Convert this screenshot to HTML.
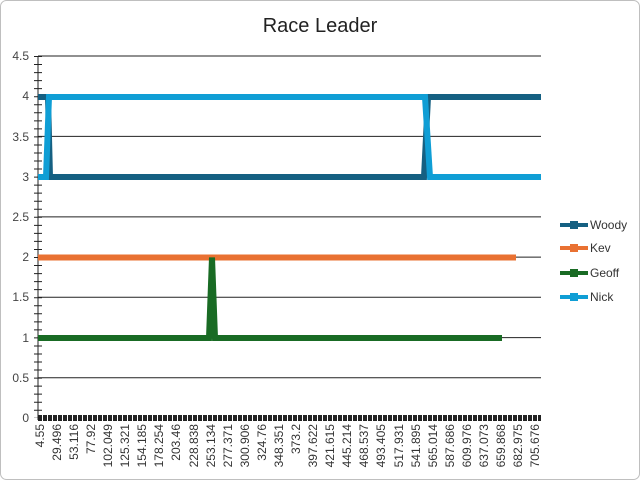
<!DOCTYPE html>
<html><head><meta charset="utf-8"><style>
body{margin:0;background:#fff}
svg{display:block;font-family:"Liberation Sans",sans-serif}
</style></head><body>
<svg width="641" height="481" xmlns="http://www.w3.org/2000/svg">
<rect x="0.5" y="0.5" width="639" height="479" rx="6" fill="#fff" stroke="#bfbfbf"/>
<text x="320" y="32" font-size="20" text-anchor="middle" fill="#222">Race Leader</text>
<g stroke="#222" stroke-width="1">
<line x1="38" x2="541" y1="56" y2="56"/>
<line x1="38" x2="541" y1="96.2" y2="96.2"/>
<line x1="38" x2="541" y1="136.4" y2="136.4"/>
<line x1="38" x2="541" y1="176.7" y2="176.7"/>
<line x1="38" x2="541" y1="216.9" y2="216.9"/>
<line x1="38" x2="541" y1="257.1" y2="257.1"/>
<line x1="38" x2="541" y1="297.3" y2="297.3"/>
<line x1="38" x2="541" y1="337.6" y2="337.6"/>
<line x1="38" x2="541" y1="377.8" y2="377.8"/>
<line x1="38" x2="38" y1="56" y2="420"/>
</g>
<line x1="38" x2="38" y1="56" y2="418" stroke="#222" stroke-width="8" stroke-dasharray="1 7.04"/>
<g font-size="12" fill="#444" text-anchor="end">
<text x="29" y="60">4.5</text><text x="29" y="100">4</text><text x="29" y="141">3.5</text>
<text x="29" y="181">3</text><text x="29" y="221">2.5</text><text x="29" y="261">2</text>
<text x="29" y="301">1.5</text><text x="29" y="342">1</text><text x="29" y="382">0.5</text>
<text x="29" y="422">0</text>
</g>
<g fill="none" stroke-width="6" stroke-linejoin="miter">
<polyline stroke="#156082" points="38,97 48,97 50,177 424,177 428,97 541,97"/>
<polyline stroke="#e97132" points="38,257.5 516,257.5"/>
<polyline stroke="#196b24" points="38,338 209,338 212,257.5 215,338 502,338"/>
<polyline stroke="#0f9ed5" points="38,177 46,177 49,97 425,97 430,177 541,177"/>
</g>
<line x1="38" x2="541" y1="418" y2="418" stroke="#222" stroke-width="6" stroke-dasharray="4 1"/>
<g font-size="12" fill="#333" text-anchor="end">
<text transform="translate(44,424) rotate(-90)">4.55</text>
<text transform="translate(61,424) rotate(-90)">29.496</text>
<text transform="translate(78,424) rotate(-90)">53.116</text>
<text transform="translate(95,424) rotate(-90)">77.92</text>
<text transform="translate(112,424) rotate(-90)">102.049</text>
<text transform="translate(129,424) rotate(-90)">125.321</text>
<text transform="translate(146,424) rotate(-90)">154.185</text>
<text transform="translate(163,424) rotate(-90)">178.254</text>
<text transform="translate(180,424) rotate(-90)">203.46</text>
<text transform="translate(198,424) rotate(-90)">228.838</text>
<text transform="translate(215,424) rotate(-90)">253.134</text>
<text transform="translate(232,424) rotate(-90)">277.371</text>
<text transform="translate(249,424) rotate(-90)">300.906</text>
<text transform="translate(266,424) rotate(-90)">324.76</text>
<text transform="translate(283,424) rotate(-90)">348.351</text>
<text transform="translate(300,424) rotate(-90)">373.2</text>
<text transform="translate(317,424) rotate(-90)">397.622</text>
<text transform="translate(334,424) rotate(-90)">421.615</text>
<text transform="translate(351,424) rotate(-90)">445.214</text>
<text transform="translate(368,424) rotate(-90)">468.537</text>
<text transform="translate(385,424) rotate(-90)">493.405</text>
<text transform="translate(403,424) rotate(-90)">517.931</text>
<text transform="translate(420,424) rotate(-90)">541.895</text>
<text transform="translate(437,424) rotate(-90)">565.014</text>
<text transform="translate(454,424) rotate(-90)">587.686</text>
<text transform="translate(471,424) rotate(-90)">609.976</text>
<text transform="translate(488,424) rotate(-90)">637.073</text>
<text transform="translate(505,424) rotate(-90)">659.868</text>
<text transform="translate(522,424) rotate(-90)">682.975</text>
<text transform="translate(539,424) rotate(-90)">705.676</text>
</g>
<g stroke-width="4">
<line x1="560" x2="588" y1="225" y2="225" stroke="#156082"/><rect x="570" y="221" width="8" height="8" fill="#156082"/>
<line x1="560" x2="588" y1="248" y2="248" stroke="#e97132"/><rect x="570" y="244" width="8" height="8" fill="#e97132"/>
<line x1="560" x2="588" y1="273" y2="273" stroke="#196b24"/><rect x="570" y="269" width="8" height="8" fill="#196b24"/>
<line x1="560" x2="588" y1="297" y2="297" stroke="#0f9ed5"/><rect x="570" y="293" width="8" height="8" fill="#0f9ed5"/>
</g>
<g font-size="12" fill="#333">
<text x="590" y="229">Woody</text><text x="590" y="252">Kev</text>
<text x="590" y="277">Geoff</text><text x="590" y="301">Nick</text>
</g>
</svg>
</body></html>
